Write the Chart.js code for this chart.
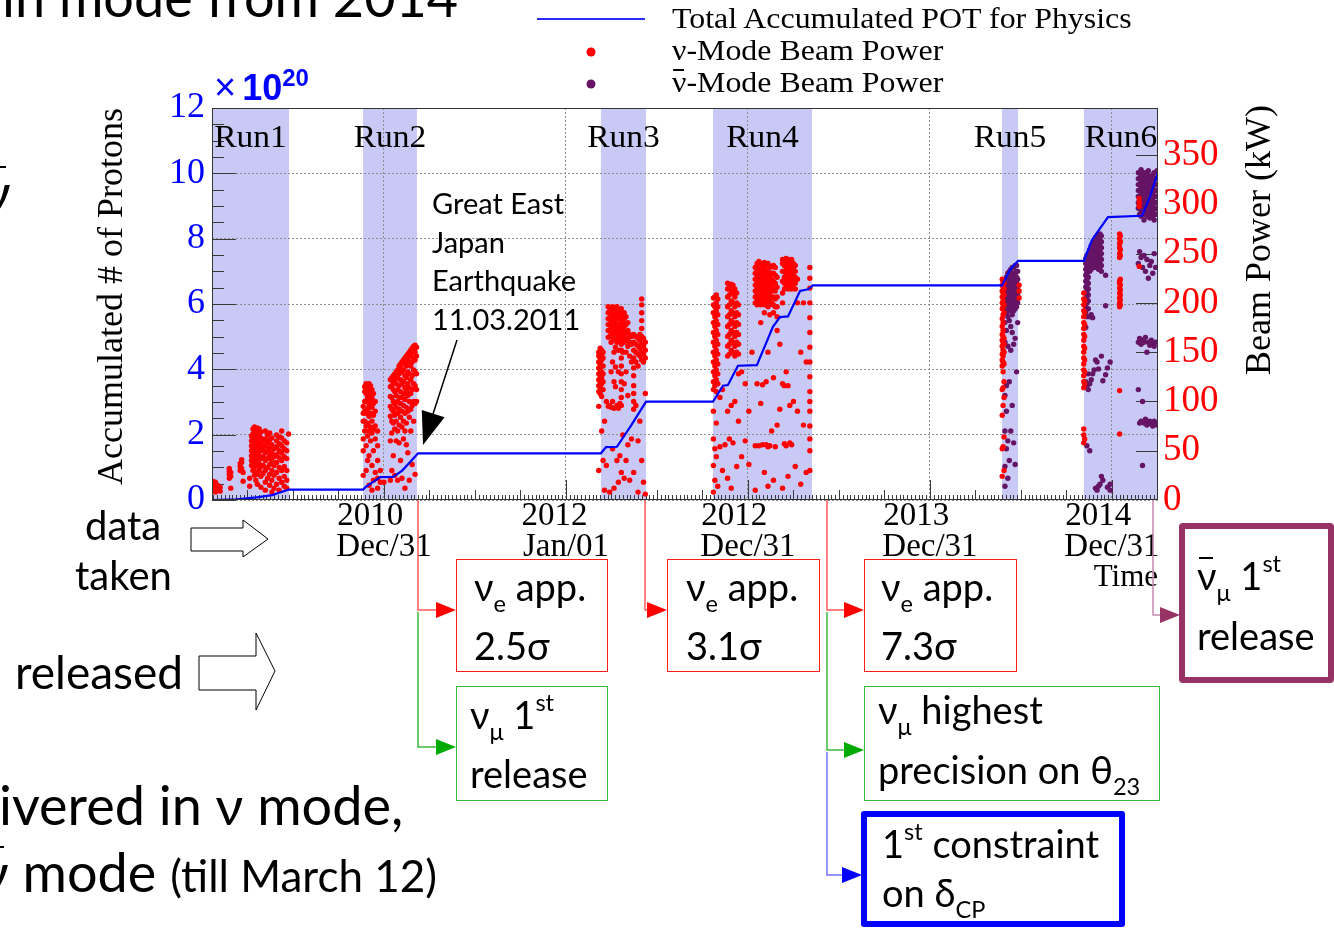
<!DOCTYPE html>
<html>
<head>
<meta charset="utf-8">
<script src="https://cdn.jsdelivr.net/npm/chart.js@4.4.1/dist/chart.umd.min.js"></script>
<style>
  html, body { margin: 0; padding: 0; background: #fff; }
  #page { position: relative; width: 1334px; height: 928px; overflow: hidden; background: #fff; }
  #c { position: absolute; left: 0; top: 0; }
  svg { position: absolute; left: 0; top: 0; }
  .tx { position: absolute; white-space: nowrap; color: #000; font-family: Lato, "Open Sans", "Noto Sans", sans-serif; }
  .leg { position: absolute; left: 672px; white-space: nowrap; font-family: "Liberation Serif", serif; font-size: 29px; line-height: 29px; transform: scaleX(1.1); transform-origin: 0 0; }
  .box { position: absolute; box-sizing: border-box; }
  .sb { font-size: .62em; position: relative; top: .45em; }
  .sp { font-size: .62em; position: relative; top: -.75em; }
  .bar { position: relative; display: inline-block; }
  .bar::before { content: ""; position: absolute; left: 8%; right: 18%; top: .02em; border-top: 2px solid currentColor; }
</style>
</head>
<body>
<div id="page">
  <canvas id="c" width="1334" height="928"></canvas>

  <svg width="1334" height="928">
    <!-- legend samples -->
    <line x1="537" y1="19" x2="645" y2="19" stroke="#2a2aff" stroke-width="2"/>
    <circle cx="591" cy="52" r="4.5" fill="#ff0000"/>
    <circle cx="591" cy="84" r="4.5" fill="#661466"/>
    <!-- block arrows -->
    <polygon points="191,528 243,528 243,520 268,539 243,557 243,551 191,551" fill="#fff" stroke="#000" stroke-width="1"/>
    <polygon points="199,656 256,656 256,633 275,671 256,710 256,690 199,690" fill="#fff" stroke="#000" stroke-width="1"/>
    <!-- earthquake pointer -->
    <line x1="457" y1="340" x2="433" y2="414" stroke="#000" stroke-width="1.5"/>
    <polygon points="423,445 421.8,409.9 444.6,417.3" fill="#000"/>
    <!-- connectors to result boxes -->
    <polyline points="418,500 418,610 440,610" stroke="#ff5a5a" stroke-width="1.5" fill="none"/>
    <polygon points="456,610 436,602 436,618" fill="#ff0000"/>
    <polyline points="418,612 418,747 440,747" stroke="#3cb93c" stroke-width="1.5" fill="none"/>
    <polygon points="456,747 436,739 436,755" fill="#00aa00"/>
    <polyline points="645,500 645,610 651,610" stroke="#ff5a5a" stroke-width="1.5" fill="none"/>
    <polygon points="667,610 647,602 647,618" fill="#ff0000"/>
    <polyline points="827,500 827,610 848,610" stroke="#ff5a5a" stroke-width="1.5" fill="none"/>
    <polygon points="864,610 844,602 844,618" fill="#ff0000"/>
    <polyline points="827,612 827,750 848,750" stroke="#3cb93c" stroke-width="1.5" fill="none"/>
    <polygon points="864,750 844,742 844,758" fill="#00aa00"/>
    <polyline points="827,752 827,875 846,875" stroke="#7070ff" stroke-width="1.5" fill="none"/>
    <polygon points="862,875 842,867 842,883" fill="#0000ff"/>
    <polyline points="1153,500 1153,615 1164,615" stroke="#c58aae" stroke-width="1.5" fill="none"/>
    <polygon points="1180,615 1160,607 1160,623" fill="#963264"/>
  </svg>

  <!-- legend -->
  <div class="leg" style="top:4px">Total Accumulated POT for Physics</div>
  <div class="leg" style="top:36px">ν-Mode Beam Power</div>
  <div class="leg" style="top:68px"><span class="bar">ν</span>-Mode Beam Power</div>

  <!-- axis multiplier -->
  <div class="tx" style="left:214px;top:68px;font-family:'Liberation Sans',sans-serif;font-size:38px;line-height:38px;color:#0000ff">×<b style="margin-left:6px;font-size:36px">10</b><b style="font-size:24px;position:relative;top:-14px">20</b></div>

  <!-- slide text -->
  <div class="tx" style="left:2px;top:-30px;font-size:54px;line-height:54px">in mode from 2014</div>
  <div class="tx" style="left:-17px;top:165px;font-size:54px;line-height:54px"><span class="bar">ν</span></div>
  <div class="tx" style="left:85px;top:505px;font-size:40px;line-height:40px">data</div>
  <div class="tx" style="left:75px;top:555px;font-size:40px;line-height:40px">taken</div>
  <div class="tx" style="left:15px;top:649px;font-size:46px;line-height:46px">released</div>
  <div class="tx" style="left:-1px;top:778px;font-size:54px;line-height:54px">ivered in ν mode,</div>
  <div class="tx" style="left:-19px;top:845px;font-size:54px;line-height:54px"><span class="bar">ν</span> mode <span style="font-size:44px">(till March 12)</span></div>

  <div class="tx" style="left:432px;top:188px;font-size:29px;line-height:29px">Great East</div>
  <div class="tx" style="left:432px;top:227px;font-size:29px;line-height:29px">Japan</div>
  <div class="tx" style="left:432px;top:265px;font-size:29px;line-height:29px">Earthquake</div>
  <div class="tx" style="left:432px;top:304px;font-size:29px;line-height:29px">11.03.2011</div>

  <!-- result boxes -->
  <div class="box" style="left:456px;top:559px;width:152px;height:113px;border:1.5px solid #ff1a1a"></div>
  <div class="box" style="left:667px;top:559px;width:153px;height:113px;border:1.5px solid #ff1a1a"></div>
  <div class="box" style="left:864px;top:559px;width:153px;height:113px;border:1.5px solid #ff1a1a"></div>
  <div class="box" style="left:456px;top:686px;width:152px;height:115px;border:1.5px solid #3cb93c"></div>
  <div class="box" style="left:864px;top:686px;width:296px;height:115px;border:1.5px solid #3cb93c"></div>
  <div class="box" style="left:861px;top:811px;width:264px;height:116px;border:6px solid #0000ff;border-radius:3px"></div>
  <div class="box" style="left:1179px;top:523px;width:155px;height:160px;border:6px solid #963264;border-radius:4px"></div>

  <div class="tx" style="left:474px;top:567px;font-size:38px;line-height:38px">ν<span class="sb">e</span> app.</div>
  <div class="tx" style="left:474px;top:626px;font-size:38px;line-height:38px">2.5σ</div>
  <div class="tx" style="left:686px;top:567px;font-size:38px;line-height:38px">ν<span class="sb">e</span> app.</div>
  <div class="tx" style="left:686px;top:626px;font-size:38px;line-height:38px">3.1σ</div>
  <div class="tx" style="left:881px;top:567px;font-size:38px;line-height:38px">ν<span class="sb">e</span> app.</div>
  <div class="tx" style="left:881px;top:626px;font-size:38px;line-height:38px">7.3σ</div>
  <div class="tx" style="left:470px;top:695px;font-size:38px;line-height:38px">ν<span class="sb">μ</span> 1<span class="sp">st</span></div>
  <div class="tx" style="left:470px;top:754px;font-size:38px;line-height:38px">release</div>
  <div class="tx" style="left:878px;top:690px;font-size:38px;line-height:38px">ν<span class="sb">μ</span> highest</div>
  <div class="tx" style="left:878px;top:750px;font-size:38px;line-height:38px">precision on θ<span class="sb">23</span></div>
  <div class="tx" style="left:882px;top:824px;font-size:38px;line-height:38px">1<span class="sp">st</span> constraint</div>
  <div class="tx" style="left:882px;top:873px;font-size:38px;line-height:38px">on δ<span class="sb">CP</span></div>
  <div class="tx" style="left:1197px;top:556px;font-size:38px;line-height:38px"><span class="bar">ν</span><span class="sb">μ</span> 1<span class="sp">st</span></div>
  <div class="tx" style="left:1197px;top:616px;font-size:38px;line-height:38px">release</div>
</div>

<script>
// ---- time axis (fractional years) ----
const X_MIN = 2010.055;
const X_MAX = 2015.253;
const xTickYears = [2011.0, 2012.0, 2013.0, 2014.0, 2015.0];
// year line padded so both lines start at the same x
const xTickLabels = [
  ["2010\u2002\u2004", "Dec/31"], ["2012\u2002\u2009", "Jan/01"], ["2012\u2002\u2004", "Dec/31"],
  ["2013\u2002\u2004", "Dec/31"], ["2014\u2002\u2004", "Dec/31"]
];
const powerTickValues = [0, 50, 100, 150, 200, 250, 300, 350];

// ---- run periods ----
const runNames = ["Run1", "Run2", "Run3", "Run4", "Run5", "Run6"];
const runStart = [2010.055, 2010.885, 2012.192, 2012.808, 2014.396, 2014.846];
const runEnd   = [2010.478, 2011.181, 2012.440, 2013.352, 2014.484, 2015.253];

// ---- accumulated protons on target (x 10^20) ----
const potYears = [2010.055, 2010.19, 2010.30, 2010.385, 2010.478, 2010.885, 2010.90, 2010.98, 2011.05, 2011.10, 2011.15, 2011.187,
  2012.192, 2012.22, 2012.28, 2012.36, 2012.44, 2012.808, 2012.863, 2012.890, 2012.945, 2013.049, 2013.137, 2013.176,
  2013.220, 2013.286, 2013.330, 2013.357, 2014.396, 2014.44, 2014.484, 2014.846, 2014.89, 2014.978, 2015.165, 2015.21, 2015.253];
const potValues = [0, 0.02, 0.08, 0.15, 0.32, 0.32, 0.40, 0.70, 0.71, 0.90, 1.20, 1.43,
  1.43, 1.62, 1.63, 2.30, 3.01, 3.01, 3.50, 3.52, 4.11, 4.13, 5.30, 5.60,
  5.62, 6.40, 6.45, 6.57, 6.57, 7.05, 7.32, 7.32, 7.96, 8.66, 8.70, 9.30, 10.04];

// ---- beam power (kW): each row is [year, power, power, ...] ----
const nuModeColumns = [
  // Run1
  [2010.058, 10, 13, 16, 19], [2010.066, 9, 15, 18], [2010.074, 8, 12, 14, 18], [2010.085, 11, 15], [2010.100, 9, 13],
  [2010.150, 22, 26, 29, 32], [2010.158, 12, 24, 28], [2010.210, 30, 34, 37], [2010.218, 32, 38, 41], [2010.226, 19, 28],
  [2010.262, 14, 22], [2010.272, 35, 40, 45, 50, 55, 60, 65], [2010.280, 30, 38, 44, 52, 58, 63, 67, 72],
  [2010.288, 25, 33, 40, 47, 54, 61, 68, 74], [2010.296, 20, 28, 36, 44, 50, 57, 64, 70], [2010.304, 16, 26, 35, 42, 48, 55, 62, 73],
  [2010.314, 30, 37, 45, 52, 58, 66, 72], [2010.324, 13, 24, 34, 42, 50, 56, 63, 69], [2010.336, 27, 35, 44, 52, 60],
  [2010.348, 10, 18, 30, 40, 48, 55, 62, 70], [2010.360, 22, 33, 42, 50, 58, 66], [2010.372, 15, 26, 36, 45, 53, 61, 68],
  [2010.384, 8, 20, 30, 40, 48, 56, 63], [2010.396, 12, 25, 35, 44, 52], [2010.410, 16, 28, 38, 46, 54, 60, 66],
  [2010.424, 10, 22, 33, 43, 50, 57, 64], [2010.438, 18, 30, 40, 48, 55, 63, 70], [2010.452, 14, 24, 34, 44, 52, 60],
  [2010.466, 12, 20, 30, 42, 50, 58], [2010.476, 67],
  // Run2
  [2010.886, 25, 50, 62, 80, 88, 95], [2010.894, 70, 80, 90, 100, 110, 115], [2010.902, 30, 55, 75, 88, 100, 108, 116, 118],
  [2010.910, 40, 65, 78, 92, 104, 112, 117], [2010.918, 15, 45, 70, 85, 96, 106, 114, 118], [2010.926, 60, 74, 88, 100, 110, 116],
  [2010.934, 10, 35, 68, 80, 94, 104, 112], [2010.942, 20, 50, 72, 86, 98, 108], [2010.952, 28, 62, 75, 90, 100],
  [2010.965, 12, 22, 40, 55, 70], [2010.980, 18, 30], [2011.000, 18],
  [2011.035, 20, 60, 85, 95, 105, 115, 122], [2011.043, 30, 68, 80, 92, 104, 116, 124],
  [2011.051, 45, 78, 90, 100, 112, 120, 126], [2011.059, 25, 72, 86, 98, 110, 122, 128],
  [2011.067, 60, 80, 94, 106, 118, 130], [2011.075, 20, 70, 88, 100, 112, 124, 132],
  [2011.083, 58, 76, 92, 104, 116, 128, 136], [2011.091, 40, 84, 98, 110, 122, 134, 138],
  [2011.099, 22, 74, 90, 104, 118, 130, 140], [2011.107, 62, 80, 96, 108, 120, 132, 142],
  [2011.115, 12, 70, 88, 102, 114, 126, 138, 144], [2011.123, 56, 78, 94, 110, 124, 136, 146],
  [2011.131, 48, 90, 106, 118, 130, 142, 148], [2011.139, 20, 84, 100, 114, 128, 140, 150],
  [2011.147, 70, 92, 108, 122, 136, 146, 152], [2011.155, 36, 96, 112, 126, 140, 150, 154],
  [2011.163, 80, 100, 118, 132, 144, 152, 156], [2011.171, 26, 98, 116, 130, 142, 150, 157], [2011.179, 100, 112, 128, 146, 155],
  // Run3
  [2012.180, 30, 95, 110, 116, 122, 128, 134, 140, 146, 150], [2012.188, 108, 114, 120, 126, 132, 138, 144, 150, 154],
  [2012.196, 70, 105, 112, 118, 124, 130, 136, 142, 148, 152], [2012.204, 40, 112, 120, 128, 136, 144, 150],
  [2012.212, 10, 80], [2012.222, 35, 100], [2012.232, 95, 165, 172, 178, 184, 190, 196],
  [2012.240, 8, 96, 166, 172, 178, 184, 190, 195], [2012.248, 94, 130, 160, 168, 175, 182, 188, 194],
  [2012.256, 52, 100, 140, 165, 172, 180, 186, 192, 196], [2012.264, 12, 93, 120, 150, 163, 170, 176, 182, 188, 193],
  [2012.272, 94, 115, 135, 155, 166, 174, 180, 186, 192], [2012.280, 40, 96, 160, 168, 176, 184, 190, 196],
  [2012.288, 18, 93, 130, 152, 164, 172, 178, 186, 192], [2012.296, 45, 98, 162, 170, 178, 184, 190],
  [2012.304, 28, 96, 104, 112, 120, 128, 136, 144, 152, 158, 166, 174, 182, 188, 194], [2012.312, 66, 150, 164, 172, 180, 188],
  [2012.320, 22, 118, 160, 168, 176, 184, 190], [2012.330, 40, 130, 150, 162, 170, 178, 186],
  [2012.340, 56, 106, 156, 164, 172, 180], [2012.350, 20, 146, 160, 168], [2012.360, 62, 140, 158, 166],
  [2012.372, 28, 92, 100, 108, 116, 126, 134, 144, 152, 160, 168], [2012.384, 96, 140, 150, 158, 166],
  [2012.396, 8, 60, 136, 148, 156, 164], [2012.406, 80, 146, 154, 162, 168],
  [2012.416, 40, 142, 150, 158, 166, 174, 182, 190, 198, 204], [2012.426, 18, 140, 148, 156, 164], [2012.436, 6, 108, 144, 152, 160],
  // Run4
  [2012.810, 8, 35, 62, 90, 112, 120, 130, 140, 150, 160, 170, 180, 190, 198, 205],
  [2012.818, 20, 52, 116, 126, 136, 146, 156, 166, 176, 186, 196, 206],
  [2012.826, 44, 78, 110, 122, 132, 142, 152, 162, 172, 182, 192, 200, 208],
  [2012.834, 14, 118, 128, 138, 148, 158, 168, 178, 188, 196, 204],
  [2012.846, 54, 104], [2012.860, 30, 112], [2012.874, 56],
  [2012.888, 22, 90, 146, 156, 166, 176, 186, 196, 206, 214, 220], [2012.898, 62, 148, 158, 168, 178, 188, 198, 208, 216],
  [2012.908, 12, 96, 152, 162, 172, 182, 192, 202, 212, 219], [2012.918, 58, 150, 160, 170, 180, 190, 200, 210, 218],
  [2012.928, 100, 146, 156, 166, 176, 186, 196, 206, 214], [2012.938, 34, 150, 160, 170, 180, 190, 200, 210],
  [2012.948, 80, 128, 148, 158, 168, 178, 188, 198], [2012.965, 44, 130], [2012.985, 60, 118], [2013.005, 36, 90], [2013.022, 150],
  [2013.040, 10, 55, 200, 206, 212, 218, 224, 230, 236], [2013.050, 118, 198, 204, 210, 216, 222, 228, 234, 240],
  [2013.060, 55, 200, 206, 212, 218, 224, 230, 236, 242], [2013.070, 98, 180, 198, 204, 210, 216, 222, 228, 234, 240],
  [2013.080, 56, 117, 200, 206, 212, 218, 224, 230, 236], [2013.090, 28, 190, 198, 204, 210, 216, 222, 228, 234, 241],
  [2013.100, 56, 120, 200, 206, 212, 218, 224, 230, 238], [2013.110, 14, 54, 150, 196, 202, 208, 214, 220, 226, 232, 240],
  [2013.120, 55, 188, 198, 204, 210, 216, 222, 228, 236], [2013.130, 70, 200, 206, 212, 218, 224, 230, 237],
  [2013.140, 20, 124, 190, 198, 206, 214, 222, 230, 238], [2013.150, 54, 196, 204, 212, 220, 228, 236],
  [2013.160, 76, 172, 186, 196, 206, 216, 226], [2013.175, 92, 158],
  [2013.190, 12, 118, 200, 210, 222, 232, 240, 244], [2013.200, 57, 116, 214, 220, 226, 232, 238, 244],
  [2013.210, 55, 130, 216, 222, 228, 234, 240, 245], [2013.220, 24, 116, 214, 220, 226, 232, 238, 244],
  [2013.230, 58, 96, 216, 222, 228, 234, 240], [2013.240, 56, 214, 220, 226, 232, 238, 244],
  [2013.250, 100, 216, 222, 228, 234, 240], [2013.260, 34, 214, 220, 226, 232, 238], [2013.272, 90, 200, 224],
  [2013.290, 16, 150], [2013.305, 76, 200], [2013.320, 28, 140],
  [2013.340, 30, 50, 62, 75, 90, 100, 110, 125, 140, 155, 170, 185, 200, 215, 225, 236],
  // Run5
  [2014.397, 24, 52, 86, 112, 136, 142, 148, 156, 162, 168, 176, 184, 194, 200, 206, 212, 218, 224],
  [2014.402, 54, 96, 114, 130, 140, 146, 152, 160, 166, 172, 180, 188, 196, 202, 210, 216, 222],
  [2014.407, 30, 64, 104, 120, 138, 150, 158, 164, 190, 198, 208, 214, 220], [2014.490, 205, 212, 218],
  // Run6
  [2014.845, 58, 66, 72, 114, 120, 126, 132, 138, 144, 150, 156, 162, 168, 174, 180, 186, 192, 198, 204, 210],
  [2014.850, 62, 118, 130, 142, 154, 166, 178, 190, 202],
  [2015.042, 67, 111, 196, 200, 205, 210, 215, 220, 222, 246, 250, 256, 260, 265, 270],
  [2015.046, 198, 203, 208, 213, 218, 224, 248, 254, 262, 268], [2015.150, 237, 298, 302, 306]
];

const antinuModeColumns = [
  // Run5
  [2014.412, 14, 34, 70, 106, 160, 180, 194, 200, 206, 212, 218, 222],
  [2014.420, 52, 90, 116, 172, 190, 196, 202, 208, 214, 220, 226],
  [2014.428, 22, 60, 156, 186, 194, 200, 206, 212, 218, 224, 230],
  [2014.436, 40, 120, 182, 192, 198, 204, 210, 216, 222, 228, 232],
  [2014.444, 70, 152, 176, 196, 202, 208, 214, 220, 226, 234],
  [2014.452, 96, 170, 188, 194, 200, 206, 212, 218, 224, 230, 236],
  [2014.460, 58, 158, 192, 198, 204, 210, 216, 222, 228, 236],
  [2014.468, 36, 164, 194, 200, 206, 212, 218, 224, 230, 238],
  [2014.476, 130, 196, 202, 208, 214, 220, 226, 232, 238], [2014.482, 180, 200, 208, 216, 224, 232],
  // Run6
  [2014.856, 120, 175, 190, 196, 204, 210, 216, 222, 228, 234, 240, 245],
  [2014.862, 55, 116, 186, 200, 206, 212, 218, 224, 230, 236, 242, 248],
  [2014.870, 112, 128, 194, 202, 208, 214, 220, 226, 232, 238, 244, 250],
  [2014.878, 50, 118, 186, 232, 238, 244, 250, 254],
  [2014.886, 122, 188, 234, 240, 246, 252, 258],
  [2014.894, 128, 185, 236, 242, 248, 254, 260],
  [2014.902, 132, 238, 245, 251, 257, 262],
  [2014.910, 12, 142, 236, 242, 248, 254, 260, 266],
  [2014.918, 10, 140, 238, 244, 250, 256, 262, 268],
  [2014.926, 14, 133, 234, 240, 246, 252, 258, 264, 270],
  [2014.934, 16, 236, 242, 248, 254, 260, 266, 270],
  [2014.942, 24, 146, 232, 238, 244, 250, 256, 262, 268],
  [2014.950, 121, 20], [2014.965, 127, 197, 228], [2014.975, 134, 13], [2014.990, 140, 16, 10],
  [2015.145, 112, 160, 240, 296, 302, 308, 314, 320, 326, 332],
  [2015.152, 78, 164, 252, 290, 296, 302, 308, 314, 320, 326, 332],
  [2015.160, 80, 158, 246, 288, 294, 300, 306, 312, 318, 324, 330, 335],
  [2015.168, 35, 100, 162, 236, 290, 296, 302, 308, 314, 320, 326, 332],
  [2015.176, 78, 160, 248, 284, 292, 298, 304, 310, 316, 322, 328],
  [2015.184, 82, 165, 232, 296, 302, 308, 314, 320, 326, 332],
  [2015.192, 76, 150, 244, 288, 294, 300, 306, 312, 318, 324, 330],
  [2015.200, 79, 160, 225, 292, 298, 304, 310, 316, 322, 328, 334],
  [2015.208, 80, 157, 238, 286, 292, 298, 304, 310, 316, 322, 328],
  [2015.216, 77, 162, 242, 290, 296, 302, 308, 314, 320, 326],
  [2015.224, 75, 158, 230, 288, 294, 300, 306, 312, 318, 324, 330],
  [2015.232, 80, 156, 250, 284, 290, 296, 302, 308, 314, 320, 326, 332],
  [2015.240, 78, 160, 236, 290, 296, 302, 308, 314, 320, 326],
  [2015.248, 76, 290, 296, 302, 308, 314, 320, 326, 334]
];

// flatten [year, p1, p2, ...] rows into {x, y} points
const toPoints = cols => cols.flatMap(([yr, ...ps]) => ps.map(p => ({ x: yr, y: p })));
const potPoints = potYears.map((yr, i) => ({ x: yr, y: potValues[i] }));

const serif = '"Liberation Serif", "Times New Roman", serif';

const decorations = {
  id: 'decorations',
  beforeDraw(chart) {
    const { ctx, chartArea: a, scales: { x } } = chart;
    ctx.save();
    ctx.fillStyle = '#ffffff';
    ctx.fillRect(a.left, a.top, a.right - a.left, a.bottom - a.top);
    ctx.fillStyle = 'rgb(201,201,246)';
    runStart.forEach((s, i) => {
      const x0 = x.getPixelForValue(s), x1 = x.getPixelForValue(runEnd[i]);
      ctx.fillRect(x0, a.top, x1 - x0, a.bottom - a.top);
    });
    ctx.restore();
  },
  beforeDatasetsDraw(chart) {
    const { ctx, chartArea: a, scales: { x, y, y2 } } = chart;
    ctx.save();
    ctx.strokeStyle = '#3a3a3a';
    ctx.lineWidth = 1;
    ctx.beginPath();
    for (let v = 0; v <= 12; v += 0.5) {
      const py = Math.round(y.getPixelForValue(v)) + 0.5;
      const len = v % 2 === 0 ? 24 : 12;
      ctx.moveTo(a.left, py); ctx.lineTo(a.left + len, py);
    }
    powerTickValues.forEach(v => {
      if (v === 0) return;
      const py = Math.round(y2.getPixelForValue(v)) + 0.5;
      ctx.moveTo(a.right, py); ctx.lineTo(a.right - 22, py);
    });
    const k0 = Math.ceil(X_MIN * 48), k1 = Math.floor(X_MAX * 48);
    for (let k = k0; k <= k1; k++) {
      const px = Math.round(x.getPixelForValue(k / 48)) + 0.5;
      const len = k % 48 === 0 ? 20 : (k % 12 === 0 ? 10 : 5);
      ctx.moveTo(px, a.bottom); ctx.lineTo(px, a.bottom - len);
    }
    ctx.stroke();

    ctx.fillStyle = '#000';
    ctx.font = '31px ' + serif;
    ctx.textAlign = 'center';
    ctx.textBaseline = 'alphabetic';
    runNames.forEach((name, i) => {
      const cx = (x.getPixelForValue(runStart[i]) + x.getPixelForValue(runEnd[i])) / 2;
      ctx.save();
      ctx.translate(cx, a.top + 39);
      ctx.scale(1.08, 1);
      ctx.fillText(name, 0, 0);
      ctx.restore();
    });
    ctx.restore();
  },
  afterDraw(chart) {
    const { ctx, chartArea: a } = chart;
    ctx.save();
    ctx.strokeStyle = '#333';
    ctx.lineWidth = 1;
    ctx.strokeRect(a.left + 0.5, a.top + 0.5, a.right - a.left - 1, a.bottom - a.top - 1);
    // right axis title, reading bottom to top
    ctx.fillStyle = '#000';
    ctx.font = '36px ' + serif;
    ctx.textAlign = 'right';
    ctx.textBaseline = 'middle';
    ctx.translate(1261, a.top - 3);
    ctx.rotate(-Math.PI / 2);
    ctx.fillText('Beam Power (kW)', 0, 0);
    ctx.restore();
  }
};

new Chart(document.getElementById('c'), {
  type: 'scatter',
  data: {
    datasets: [
      {
        label: 'Total Accumulated POT for Physics',
        data: potPoints, yAxisID: 'y', showLine: true, tension: 0, fill: false,
        borderColor: '#0000ff', borderWidth: 2.2, pointRadius: 0
      },
      {
        label: 'ν-Mode Beam Power',
        data: toPoints(nuModeColumns), yAxisID: 'y2',
        pointRadius: 2.7, pointBorderWidth: 0, backgroundColor: '#ff0000', borderColor: '#ff0000'
      },
      {
        label: 'ν̄-Mode Beam Power',
        data: toPoints(antinuModeColumns), yAxisID: 'y2',
        pointRadius: 2.7, pointBorderWidth: 0, backgroundColor: '#661466', borderColor: '#661466'
      }
    ]
  },
  options: {
    responsive: false,
    animation: false,
    devicePixelRatio: 1,
    events: [],
    layout: { padding: { left: 90, right: 0, top: 108, bottom: 0 } },
    plugins: { legend: { display: false }, tooltip: { enabled: false } },
    scales: {
      x: {
        type: 'linear', position: 'bottom', min: X_MIN, max: X_MAX,
        afterFit: s => { s.height = 428; },
        afterBuildTicks: s => { s.ticks = xTickYears.map(v => ({ value: v })); },
        ticks: {
          autoSkip: false, maxRotation: 0, minRotation: 0, padding: 1, color: '#000',
          font: { family: serif, size: 33, lineHeight: 0.94 },
          callback: (v, i) => xTickLabels[i]
        },
        grid: { color: '#8c8c8c', lineWidth: 1, drawTicks: false },
        border: { display: false, dash: [2, 2] },
        title: {
          display: true, text: 'Time', align: 'end', color: '#000',
          font: { family: serif, size: 31, lineHeight: 1.2 },
          padding: { top: 0, bottom: 332 }
        }
      },
      y: {
        position: 'left', min: 0, max: 12,
        afterFit: s => { s.width = 122; },
        ticks: { stepSize: 2, color: '#0000ff', padding: 7, font: { family: serif, size: 36 } },
        grid: { color: '#8c8c8c', lineWidth: 1, drawTicks: false },
        border: { display: false, dash: [2, 2] },
        title: {
          display: true, text: 'Accumulated # of Protons', align: 'end', color: '#000',
          font: { family: serif, size: 36, lineHeight: 1.2 },
          padding: { top: 1, bottom: 0 }
        }
      },
      y2: {
        position: 'right', min: 0, max: 397.7,
        afterFit: s => { s.width = 176; },
        afterBuildTicks: s => { s.ticks = powerTickValues.map(v => ({ value: v })); },
        ticks: { color: '#ff0000', padding: 5, font: { family: serif, size: 37 } },
        grid: { display: false, drawTicks: false },
        border: { display: false }
      }
    }
  },
  plugins: [decorations]
});
</script>
</body>
</html>
